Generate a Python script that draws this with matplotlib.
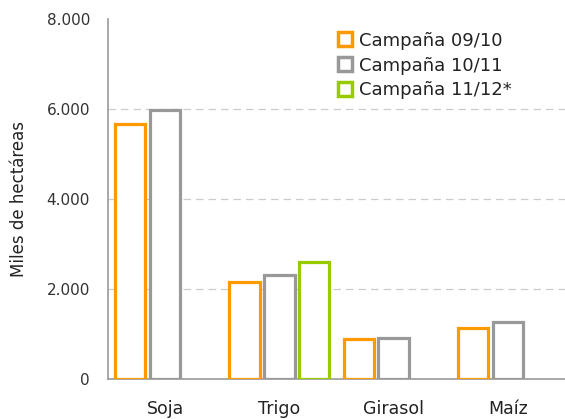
import matplotlib
matplotlib.use("Agg")
import matplotlib.pyplot as plt
import numpy as np

categories = ["Soja", "Trigo", "Girasol", "Maíz"]
series_names = ["Campaña 09/10", "Campaña 10/11", "Campaña 11/12*"]
camp_0910 = [5670, 2165, 880, 1125]
camp_1011 = [5980, 2310, 920, 1260]
camp_1112 = [None, 2590, None, None]
colors = ["#FF9900", "#999999", "#99CC00"]
yticks = [0, 2000, 4000, 6000, 8000]
ytick_labels = ["0", "2.000", "4.000", "6.000", "8.000"]
grid_levels = [2000, 4000, 6000]

plt.rcParams['font.family'] = ['DejaVu Sans']

fig = plt.figure(figsize=(5.65, 4.19), dpi=100)
ax = fig.add_axes([108/565, 1-379/419, 1-108/565, 360/419])

x = np.arange(len(categories))
width = 0.265
offsets = [-0.305, 0.0, 0.305]
all_series = [camp_0910, camp_1011, camp_1112]
handles = []
for s, (vals, off, col, name) in enumerate(zip(all_series, offsets, colors, series_names)):
    xs = [xi + off for xi, v in zip(x, vals) if v is not None]
    vs = [v for v in vals if v is not None]
    ax.bar(xs, vs, width=width, facecolor="white", edgecolor=col, linewidth=2.3, zorder=3)
    h, = ax.plot([], [], marker="s", linestyle="none", markersize=9.5,
                 markerfacecolor="white", markeredgecolor=col, markeredgewidth=2.5, label=name)
    handles.append(h)

for g in grid_levels:
    ax.axhline(g, linestyle=(0, (6, 4)), color="#CCCCCC", linewidth=0.9, zorder=0)

ax.set_xlim(-0.5, 3.5)
ax.set_ylim(0, 8000)
ax.set_yticks(yticks)
ax.set_yticklabels(ytick_labels, fontsize=11, color="#333333")
ax.set_xticks(x)
ax.set_xticklabels(categories, fontsize=12.5, color="#222222")
ax.tick_params(axis="x", length=0, pad=15)
ax.tick_params(axis="y", length=0, pad=13)
for sp in ["top", "right"]:
    ax.spines[sp].set_visible(False)
for sp in ["left", "bottom"]:
    ax.spines[sp].set_color("#999999")
    ax.spines[sp].set_linewidth(1.2)
ax.set_ylabel("Miles de hectáreas", fontsize=12, color="#222222", labelpad=13)

leg = ax.legend(handles=handles, loc="upper left", bbox_to_anchor=(0.465, 1.01),
                frameon=False, fontsize=13, handletextpad=0.35, handlelength=0.9,
                labelspacing=0.38, borderaxespad=0.5)
for t in leg.get_texts():
    t.set_color("#222222")

fig.savefig("out.png", dpi=100)
